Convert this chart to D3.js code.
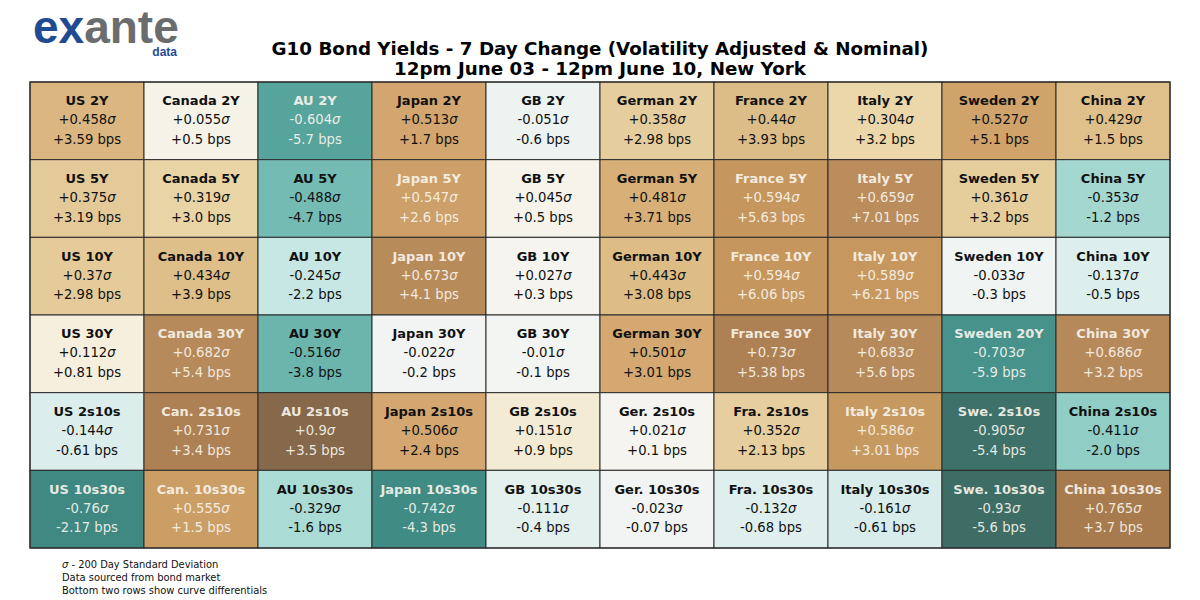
<!DOCTYPE html>
<html><head><meta charset="utf-8">
<script src="https://cdn.jsdelivr.net/npm/d3@7"></script>
<style>
html,body{margin:0;padding:0;background:#fff;}
svg{display:block;}
</style></head>
<body>
<svg id="chart" width="1200" height="600"></svg>
<script>
const titleLines = ["G10 Bond Yields - 7 Day Change (Volatility Adjusted & Nominal)", "12pm June 03 - 12pm June 10, New York"];
const footnotes = ["σ - 200 Day Standard Deviation", "Data sourced from bond market", "Bottom two rows show curve differentials"];

const labels = [
  ["US 2Y","Canada 2Y","AU 2Y","Japan 2Y","GB 2Y","German 2Y","France 2Y","Italy 2Y","Sweden 2Y","China 2Y"],
  ["US 5Y","Canada 5Y","AU 5Y","Japan 5Y","GB 5Y","German 5Y","France 5Y","Italy 5Y","Sweden 5Y","China 5Y"],
  ["US 10Y","Canada 10Y","AU 10Y","Japan 10Y","GB 10Y","German 10Y","France 10Y","Italy 10Y","Sweden 10Y","China 10Y"],
  ["US 30Y","Canada 30Y","AU 30Y","Japan 30Y","GB 30Y","German 30Y","France 30Y","Italy 30Y","Sweden 20Y","China 30Y"],
  ["US 2s10s","Can. 2s10s","AU 2s10s","Japan 2s10s","GB 2s10s","Ger. 2s10s","Fra. 2s10s","Italy 2s10s","Swe. 2s10s","China 2s10s"],
  ["US 10s30s","Can. 10s30s","AU 10s30s","Japan 10s30s","GB 10s30s","Ger. 10s30s","Fra. 10s30s","Italy 10s30s","Swe. 10s30s","China 10s30s"]
];
const sigma = [
  [0.458, 0.055, -0.604, 0.513, -0.051, 0.358, 0.44, 0.304, 0.527, 0.429],
  [0.375, 0.319, -0.488, 0.547, 0.045, 0.481, 0.594, 0.659, 0.361, -0.353],
  [0.37, 0.434, -0.245, 0.673, 0.027, 0.443, 0.594, 0.589, -0.033, -0.137],
  [0.112, 0.682, -0.516, -0.022, -0.01, 0.501, 0.73, 0.683, -0.703, 0.686],
  [-0.144, 0.731, 0.9, 0.506, 0.151, 0.021, 0.352, 0.586, -0.905, -0.411],
  [-0.76, 0.555, -0.329, -0.742, -0.111, -0.023, -0.132, -0.161, -0.93, 0.765]
];
const bps = [
  ["+3.59","+0.5","-5.7","+1.7","-0.6","+2.98","+3.93","+3.2","+5.1","+1.5"],
  ["+3.19","+3.0","-4.7","+2.6","+0.5","+3.71","+5.63","+7.01","+3.2","-1.2"],
  ["+2.98","+3.9","-2.2","+4.1","+0.3","+3.08","+6.06","+6.21","-0.3","-0.5"],
  ["+0.81","+5.4","-3.8","-0.2","-0.1","+3.01","+5.38","+5.6","-5.9","+3.2"],
  ["-0.61","+3.4","+3.5","+2.4","+0.9","+0.1","+2.13","+3.01","-5.4","-2.0"],
  ["-2.17","+1.5","-1.6","-4.3","-0.4","-0.07","-0.68","-0.61","-5.6","+3.7"]
];

const colorStops = [-0.95, -0.75, -0.6, -0.5, -0.4, -0.25, -0.12, 0, 0.12, 0.3, 0.43, 0.5, 0.6, 0.7, 0.77, 0.9];
const colorVals  = ["#3d6a61","#3f8b84","#58a59d","#6fb8b0","#93d0c8","#c5e7e3","#e1f0ee","#f5f5f3","#f6efdc","#ebd8ab","#dfc08b","#d4a870","#c4965e","#b4875a","#a67a4c","#86694a"];
const color = d3.scaleLinear().domain(colorStops).range(colorVals).interpolate(d3.interpolateRgb).clamp(true);

const svg = d3.select("#chart");
const nCols = labels[0].length, nRows = labels.length;
const x = d3.scaleBand().domain(d3.range(nCols)).range([30, 1170]).padding(0);
const y = d3.scaleBand().domain(d3.range(nRows)).range([82, 548]).padding(0);

const cells = [];
for (let r = 0; r < nRows; r++) for (let c = 0; c < nCols; c++)
  cells.push({r, c, label: labels[r][c], s: sigma[r][c], b: bps[r][c]});

const fmtS = v => (v >= 0 ? "+" : "") + String(v) + "σ";

const g = svg.append("g").selectAll("g").data(cells).join("g")
  .attr("transform", d => `translate(${x(d.c)},${y(d.r)})`);
g.append("rect")
  .attr("width", x.bandwidth()).attr("height", y.bandwidth())
  .attr("fill", d => color(d.s)).attr("stroke", "#2b2b2b").attr("stroke-width", 1);

const txtColor = d => Math.abs(d.s) > 0.53 ? "rgba(248,244,236,0.92)" : "#111";
const cx = x.bandwidth() / 2, cy = y.bandwidth() / 2;
g.append("text").attr("x", cx).attr("y", cy - 20).attr("dy", "0.35em")
  .attr("text-anchor", "middle").attr("font-family", "DejaVu Sans").attr("font-weight", "bold")
  .attr("font-size", 13).attr("fill", txtColor).text(d => d.label);
g.append("text").attr("x", cx).attr("y", cy - 1).attr("dy", "0.35em")
  .attr("text-anchor", "middle").attr("font-family", "DejaVu Sans")
  .attr("font-size", 13.2).attr("fill", txtColor)
  .each(function(d) {
    const t = d3.select(this);
    const v = fmtS(d.s);
    t.append("tspan").text(v.slice(0, -1));
    t.append("tspan").attr("font-style", "italic").text("σ");
  });
g.append("text").attr("x", cx).attr("y", cy + 18.5).attr("dy", "0.35em")
  .attr("text-anchor", "middle").attr("font-family", "DejaVu Sans")
  .attr("font-size", 13.2).attr("fill", txtColor).text(d => d.b + " bps");

// outer border
svg.append("rect").attr("x", 30).attr("y", 82).attr("width", 1140).attr("height", 466)
  .attr("fill", "none").attr("stroke", "#2b2b2b").attr("stroke-width", 1.2);

// title
svg.append("g").selectAll("text").data(titleLines).join("text")
  .attr("x", 600).attr("y", (d, i) => 55 + i * 20)
  .attr("text-anchor", "middle").attr("font-family", "DejaVu Sans").attr("font-weight", "bold")
  .attr("font-size", 18.3).attr("fill", "#000").text(d => d);

// logo
const logo = svg.append("text").attr("x", 33).attr("y", 43)
  .attr("font-family", "Liberation Sans, Arial, sans-serif").attr("font-weight", "bold")
  .attr("font-size", 46);
logo.append("tspan").attr("fill", "#1f4b93").text("ex");
logo.append("tspan").attr("fill", "#6b6c6e").text("ante");
svg.append("text").attr("x", 177).attr("y", 56).attr("text-anchor", "end")
  .attr("font-family", "Liberation Sans, Arial, sans-serif").attr("font-weight", "bold")
  .attr("font-size", 12).attr("fill", "#1f4b93").text("data");

// footnotes
const fn = svg.append("g").selectAll("text").data(footnotes).join("text")
  .attr("x", 62).attr("y", (d, i) => 568 + i * 13)
  .attr("font-family", "DejaVu Sans Condensed, DejaVu Sans").attr("font-stretch", "condensed")
  .attr("font-size", 11).attr("fill", "#111");
fn.each(function(d) {
  const t = d3.select(this);
  if (d.startsWith("σ")) {
    t.append("tspan").attr("font-style", "italic").text("σ");
    t.append("tspan").text(d.slice(1));
  } else t.text(d);
});
</script>
</body></html>
